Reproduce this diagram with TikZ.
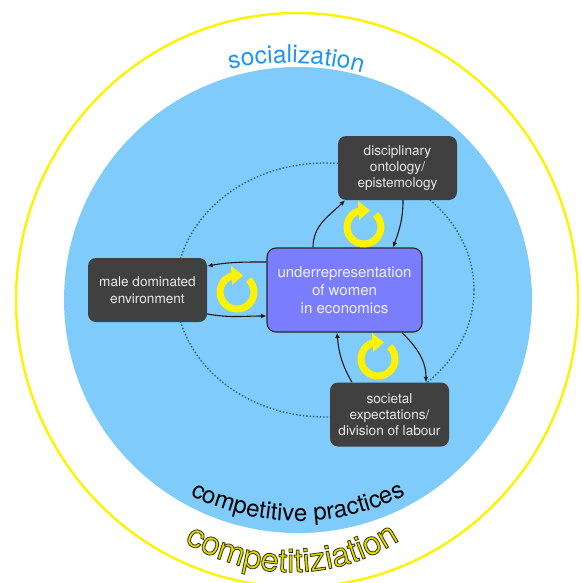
\documentclass[tikz,border=0pt]{standalone}
\usepackage{fontspec}
\setmainfont{TeX Gyre Heros}
\usetikzlibrary{arrows.meta,decorations.text}
\definecolor{discblue}{HTML}{7FCBFB}
\definecolor{socblue}{HTML}{1E96F0}
\definecolor{ringyellow}{HTML}{FFF200}
\definecolor{compyellow}{HTML}{E6DC00}
\definecolor{boxgray}{HTML}{404040}
\definecolor{underviolet}{HTML}{7B7DFF}
\definecolor{ringdots}{HTML}{15608F}
\tikzset{
  factor/.style={fill=boxgray,text=white!92!black,rounded corners=8pt,minimum width=119pt,minimum height=64pt,
    inner sep=0pt,align=center,font=\fontsize{13.6}{16.3}\selectfont},
  centre/.style={draw=black!85,line width=1.1pt,fill=underviolet,text=white!88!underviolet,rounded corners=9pt,
    minimum width=155pt,minimum height=84pt,inner sep=0pt,align=center,font=\fontsize{15}{18}\selectfont},
  conn/.style={-{Latex[length=5.5pt,width=5pt]},line width=1.1pt,black!90},
  cyclearc/.style={ringyellow,line width=7pt}
}
\begin{document}
\begin{tikzpicture}[x=1pt,y=-1pt]
\useasboundingbox (0,0) rectangle (581,583);

\draw[ringyellow,line width=2.4pt] (297,300) ellipse (281 and 287);
\fill[discblue] (298,300) ellipse (234 and 233);
\draw[ringdots,line width=1.4pt,dotted] (325,290) ellipse (149 and 127);

\node[factor] (disc) at (397.5,168) {disciplinary\\ontology/\\epistemology};
\node[factor] (male) at (147.5,290) {male dominated\\environment};
\node[factor] (soc) at (389.5,414.5) {societal\\expectations/\\division of labour};
\node[centre] (under) at (344.5,290) {underrepresentation\\of women\\in economics};

\draw[conn] ([xshift=-31.5pt]under.north) to[out=90,in=225] ([xshift=-52.5pt]disc.south);
\draw[conn] ([xshift=5.5pt]disc.south) to[out=-90,in=70] ([xshift=48.5pt]under.north);
\draw[conn] ([yshift=28pt]under.west) to[out=180,in=10] ([yshift=24pt]male.east);
\draw[conn] ([yshift=-24pt]male.east) to[out=-10,in=180] ([yshift=-26pt]under.west);
\draw[conn] ([xshift=-37.5pt]soc.north) to[out=120,in=-85] ([xshift=-7.5pt]under.south);
\draw[conn] ([xshift=57.5pt]under.south) to[out=-45,in=90] ([xshift=36.5pt]soc.north);

\foreach \cx/\cy in {364/227,237/292,378/359} {
  \draw[cyclearc] (\cx,\cy) ++(-47:17) arc[start angle=-47,end angle=255,radius=17];
  \fill[ringyellow] (\cx-6,\cy-26) -- (\cx+6,\cy-16.5) -- (\cx-5,\cy-7) -- cycle;
}

\path[decorate,decoration={text along path,text align=center,
  text={|\fontsize{24.6}{30}\selectfont\color{socblue}|socialization}}]
  (227,70) .. controls (266,60) and (321,60) .. (365,74);
\path[decorate,decoration={text along path,text align=center,
  text={|\fontsize{24}{30}\selectfont\color{black}|competitive practices}}]
  (188,494) .. controls (255,530) and (340,530) .. (408,494);
\begin{scope}
\path[decorate,decoration={text along path,text align=center,
  text={|\fontsize{33}{38}\selectfont\color{compyellow}\special{pdf:code 0.2 0.2 0 RG 0.8 w 2 Tr}|competitiziation}}]
  (178,538) .. controls (248,584) and (338,584) .. (406,536);
\end{scope}
\end{tikzpicture}
\end{document}
